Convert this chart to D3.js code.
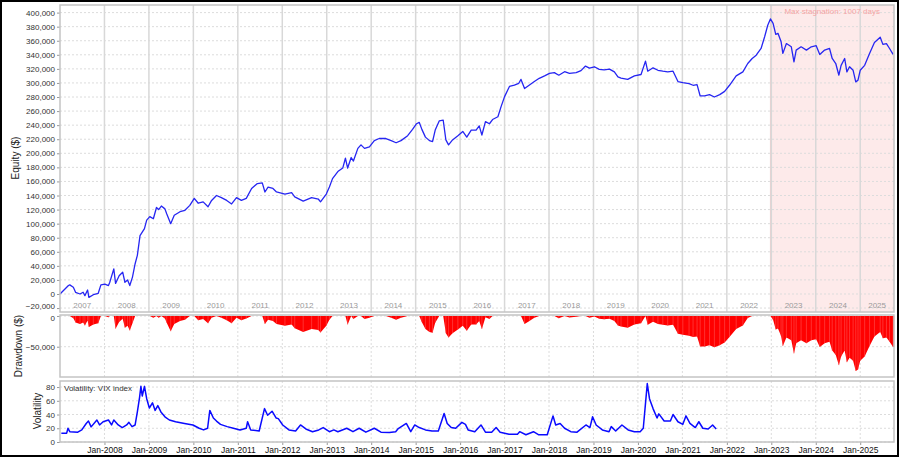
<!DOCTYPE html>
<html><head><meta charset="utf-8">
<script src="https://cdn.jsdelivr.net/npm/d3@7"></script>
<style>
body{margin:0;background:#fff;}
svg{display:block;font-family:"Liberation Sans",Arial,sans-serif;}
</style>
</head><body>
<svg id="c" width="900" height="458"></svg>
<script>
// ---- Data ----
const equityDates = [2007.00,2007.19,2007.22,2007.30,2007.35,2007.45,2007.52,2007.56,2007.62,2007.65,2007.75,2007.86,2007.92,
2008.01,2008.09,2008.12,2008.21,2008.25,2008.33,2008.41,2008.46,2008.52,2008.57,2008.63,2008.69,2008.74,2008.80,2008.85,2008.90,2008.95,
2009.02,2009.10,2009.17,2009.22,2009.28,2009.36,2009.40,2009.49,2009.57,2009.70,2009.81,2009.92,
2010.02,2010.11,2010.22,2010.33,2010.41,2010.52,2010.63,2010.75,2010.86,2010.97,
2011.08,2011.19,2011.31,2011.44,2011.55,2011.61,2011.68,2011.79,2011.87,
2012.06,2012.21,2012.28,2012.47,2012.66,2012.81,2012.86,2012.99,
2013.06,2013.13,2013.25,2013.36,2013.42,2013.47,2013.55,2013.60,2013.70,2013.77,2013.85,2013.96,
2014.07,2014.18,2014.33,2014.45,2014.56,2014.67,2014.82,2014.93,
2015.02,2015.08,2015.14,2015.22,2015.31,2015.38,2015.44,2015.53,2015.62,2015.68,2015.74,2015.83,2015.95,
2016.06,2016.15,2016.25,2016.36,2016.43,2016.49,2016.57,2016.66,2016.73,2016.85,2016.92,
2017.00,2017.11,2017.22,2017.32,2017.37,2017.45,2017.56,2017.67,2017.78,2017.90,
2018.01,2018.12,2018.22,2018.35,2018.46,2018.61,2018.72,2018.82,2018.91,
2019.02,2019.13,2019.24,2019.36,2019.47,2019.55,2019.62,2019.77,2019.92,
2020.07,2020.17,2020.22,2020.34,2020.45,2020.56,2020.67,2020.79,2020.90,
2021.01,2021.15,2021.24,2021.33,2021.40,2021.50,2021.61,2021.72,2021.84,2021.95,
2022.06,2022.21,2022.36,2022.47,2022.57,2022.66,2022.77,2022.85,2022.92,2022.98,
2023.04,2023.10,2023.15,2023.22,2023.26,2023.34,2023.45,2023.51,2023.56,2023.67,2023.79,2023.90,
2024.01,2024.09,2024.20,2024.31,2024.37,2024.45,2024.52,2024.57,2024.65,2024.70,2024.76,2024.84,2024.90,2024.95,
2025.00,2025.10,2025.21,2025.32,2025.45,2025.51,2025.59,2025.66,2025.74];
const equityValues = [0,12000,13000,9500,2400,0,2400,-2400,5700,-4800,-1000,1000,13000,
14000,12000,16700,35700,15000,26000,31000,16700,20000,12000,24000,43000,55000,83000,88000,93000,105000,
110000,107000,123000,120000,125000,121000,114000,100000,112000,117000,119000,126000,
136000,129000,131000,124000,133000,140000,137000,133000,128000,137000,
133000,136000,150000,157000,158000,145000,152000,150000,145000,
142000,144000,138000,132000,137000,135000,131000,142000,
152000,164000,174000,179000,193000,179000,194000,189000,207000,212000,207000,209000,
218000,221000,221000,218000,215000,218000,225000,234000,
242000,244000,234000,223000,218000,216600,233000,246000,247000,219000,212000,219000,225000,
231000,223000,233000,233000,239000,226000,245000,242000,248000,252000,266000,
280600,295000,297000,299500,305000,292000,297000,302000,306600,310000,
313700,314700,311000,316000,313700,314700,317500,324000,321000,
323000,319400,318500,319600,315700,308600,307000,305000,310000,
312000,331000,316700,321500,318000,316700,315700,316700,302000,
300500,299000,296700,297700,281500,281500,283400,280000,283400,288000,
296700,310000,315700,327600,334800,339500,349000,365700,382000,391000,
384800,369000,370500,358600,342000,356000,351400,330000,346700,351400,346700,351400,
353000,340500,346700,349000,334800,327600,311000,325000,334800,315700,323000,318000,301500,304000,
318000,325000,342000,357600,365000,354800,356000,349000,340500];

const vixDates = [2007.03,2007.15,2007.18,2007.22,2007.40,2007.49,2007.59,2007.64,2007.70,2007.83,2007.89,2007.97,
2008.09,2008.16,2008.21,2008.31,2008.40,2008.50,2008.55,2008.62,2008.69,2008.74,2008.79,2008.82,2008.85,2008.90,2008.95,
2009.01,2009.08,2009.14,2009.20,2009.27,2009.36,2009.46,2009.60,2009.80,2009.99,
2010.13,2010.23,2010.32,2010.37,2010.45,2010.52,2010.61,2010.76,2010.90,
2011.05,2011.19,2011.22,2011.29,2011.48,2011.60,2011.67,2011.77,2011.86,2011.91,
2012.01,2012.15,2012.30,2012.41,2012.53,2012.68,2012.82,2012.92,
2013.06,2013.16,2013.25,2013.45,2013.59,2013.73,2013.88,
2014.07,2014.22,2014.41,2014.55,2014.60,2014.79,2014.89,2014.98,
2015.08,2015.22,2015.37,2015.51,2015.64,2015.71,2015.80,2015.90,
2016.04,2016.12,2016.18,2016.33,2016.47,2016.57,2016.71,2016.81,2016.90,
2017.10,2017.29,2017.34,2017.48,2017.65,2017.77,2017.96,
2018.09,2018.15,2018.25,2018.35,2018.49,2018.63,2018.83,2018.92,2018.98,
2019.06,2019.20,2019.35,2019.40,2019.50,2019.64,2019.78,2019.92,
2020.05,2020.12,2020.21,2020.26,2020.34,2020.43,2020.47,2020.59,2020.73,2020.79,2020.90,
2021.01,2021.08,2021.17,2021.29,2021.37,2021.46,2021.58,2021.68,2021.76];
const vixValues = [12.9,12.9,20,15,14.3,17.6,27,30.5,22,32,24.8,29.5,
32,24.8,32,24.8,21,24.8,28.6,22.4,24.8,43.8,65,81,67,81,63,
49.5,57,46,53,43.8,36.7,32,29.5,27,24.8,
20,17.6,20,46,35,30.5,25.7,22.4,20,
17.6,20,29.5,17.6,16,48.6,39,44.8,35,34,
24.8,17.6,16,24.8,19,15,17.6,21,
15,17.6,15,20,15,20,14.3,
20,14.3,13.8,15,19,27,15,24.8,
21,17.6,16,16,41.4,27,21,20,
28.6,25.7,17.6,15,24.8,14.3,14.3,21,14.3,
11.4,11.4,15,10.5,15,10.5,10.5,
38,24.8,27,20,15,14.3,24.8,21,36.7,
24.8,17.6,15,22.4,16,24.8,17.6,15,
15,20,85,63,48.6,35,41,30.5,30.5,40,29.5,
25.7,38,27,21,29.5,20,19,24.8,19];

const equityTicks = d3.range(-20000, 400001, 20000);
const drawdownTicks = [0, -50000];
const vixTicks = [0, 20, 40, 60, 80];
const yearList = d3.range(2007, 2026);
const bottomYears = d3.range(2008, 2026);
const stagnationStart = 2022.98;
const stagnationText = "Max stagnation: 1007 days";

// ---- Layout ----
const svg = d3.select('#c');
const L = 60, R = 894;
const x = d3.scaleLinear().domain([2007.0, 2025.76]).range([L, R]);
const P1 = {top:5, bottom:312}, P2 = {top:315, bottom:377}, P3 = {top:381, bottom:442};
const yE = d3.scaleLinear().domain([-25600, 410800]).range([P1.bottom, P1.top]);
const yD = d3.scaleLinear().domain([-99300, 1600]).range([P2.bottom, P2.top]);
const yV = d3.scaleLinear().domain([0, 88.8]).range([P3.bottom, P3.top]);
const gridCol = "#dcdcdc", frameCol = "#c4c4c4", txt = "#333";
const blue = "#2626f2";

svg.append("rect").attr("width",900).attr("height",458).attr("fill","#fff");

// ---- Panel 1: equity ----
const g1 = svg.append("g");
g1.append("rect").attr("x", x(stagnationStart)).attr("y", P1.top)
  .attr("width", R - x(stagnationStart)).attr("height", P1.bottom - P1.top)
  .attr("fill", "#fdeaea");
g1.append("line").attr("x1", x(stagnationStart)).attr("x2", x(stagnationStart))
  .attr("y1", P1.top).attr("y2", P1.bottom).attr("stroke", "#efcdcd").attr("stroke-width", 1);
g1.selectAll(".hg").data(equityTicks).enter().append("line")
  .attr("x1", L).attr("x2", R).attr("y1", d => yE(d)).attr("y2", d => yE(d))
  .attr("stroke", gridCol).attr("stroke-width", 1).attr("stroke-dasharray", "2,2");
g1.selectAll(".vg").data(bottomYears).enter().append("line")
  .attr("x1", d => x(d)).attr("x2", d => x(d)).attr("y1", P1.top).attr("y2", P1.bottom)
  .attr("stroke", "#d8d8d8").attr("stroke-width", 1.5);
g1.selectAll(".yl").data(yearList).enter().append("text")
  .attr("x", d => (x(d) + Math.min(x(d + 1), R)) / 2).attr("y", 307.5)
  .attr("text-anchor", "middle").attr("font-size", "8px").attr("fill", "#9a9a9a")
  .text(d => d);
g1.append("text").attr("x", (x(stagnationStart) + R) / 2).attr("y", 13.5)
  .attr("text-anchor", "middle").attr("font-size", "8px").attr("fill", "#f4a4a4")
  .text(stagnationText);
const eqData = equityDates.map((d, i) => [d, equityValues[i]]);
g1.append("path").datum(eqData)
  .attr("d", d3.line().x(d => x(d[0])).y(d => yE(d[1])))
  .attr("fill", "none").attr("stroke", blue).attr("stroke-width", 1.3).attr("stroke-linejoin", "round");
g1.append("g").attr("class", "ax1").attr("transform", `translate(${L},0)`)
  .call(d3.axisLeft(yE).tickValues(equityTicks).tickFormat(d3.format(",")).tickSize(3).tickPadding(2));

// ---- Panel 2: drawdown ----
const g2 = svg.append("g");
g2.selectAll(".hg").data(drawdownTicks).enter().append("line")
  .attr("x1", L).attr("x2", R).attr("y1", d => yD(d)).attr("y2", d => yD(d))
  .attr("stroke", gridCol).attr("stroke-dasharray", "2,2");
g2.selectAll(".vg").data(bottomYears).enter().append("line")
  .attr("x1", d => x(d)).attr("x2", d => x(d)).attr("y1", P2.top).attr("y2", P2.bottom)
  .attr("stroke", gridCol).attr("stroke-dasharray", "2,2");
let peak = -Infinity;
const ddData = eqData.map(d => {
  peak = Math.max(peak, d[1]);
  return [d[0], d[1] - peak];
});
ddData.push([x.domain()[1], ddData[ddData.length - 1][1]]);
g2.append("path").datum(ddData)
  .attr("d", d3.area().x(d => x(d[0])).y0(yD(0)).y1(d => yD(d[1])))
  .attr("fill", "#ff0000");
g2.selectAll(".bar").data(ddData.filter(d => d[1] < 0)).enter().append("line")
  .attr("x1", d => x(d[0])).attr("x2", d => x(d[0]))
  .attr("y1", yD(0)).attr("y2", d => yD(d[1]))
  .attr("stroke", "#ff5050").attr("stroke-width", 0.6);
g2.append("g").attr("class", "ax2").attr("transform", `translate(${L},0)`)
  .call(d3.axisLeft(yD).tickValues(drawdownTicks).tickFormat(d3.format(",")).tickSize(3).tickPadding(2));

// ---- Panel 3: volatility ----
const g3 = svg.append("g");
g3.selectAll(".hg").data(vixTicks).enter().append("line")
  .attr("x1", L).attr("x2", R).attr("y1", d => yV(d)).attr("y2", d => yV(d))
  .attr("stroke", gridCol).attr("stroke-dasharray", "2,2");
g3.selectAll(".vg").data(bottomYears).enter().append("line")
  .attr("x1", d => x(d)).attr("x2", d => x(d)).attr("y1", P3.top).attr("y2", P3.bottom)
  .attr("stroke", gridCol).attr("stroke-dasharray", "2,2");
const vixData = vixDates.map((d, i) => [d, vixValues[i]]);
g3.append("path").datum(vixData)
  .attr("d", d3.line().x(d => x(d[0])).y(d => yV(d[1])))
  .attr("fill", "none").attr("stroke", "#0a0aff").attr("stroke-width", 1.5).attr("stroke-linejoin", "round");
g3.append("text").attr("x", 64).attr("y", 390.5).attr("font-size", "8px").attr("fill", txt)
  .text("Volatility: VIX index");
g3.append("g").attr("transform", `translate(${L},0)`)
  .call(d3.axisLeft(yV).tickValues(vixTicks).tickSize(3).tickPadding(2));
g3.append("g").attr("class", "axb").attr("transform", `translate(0,${P3.bottom})`)
  .call(d3.axisBottom(x).tickValues(bottomYears).tickFormat(d => "Jan-" + d).tickSize(3).tickPadding(2));

// axis styling
svg.selectAll(".domain").remove();
svg.selectAll(".tick line").attr("stroke", "#999");
svg.selectAll(".tick text").attr("font-size", "8px").attr("fill", txt)
  .attr("font-family", '"Liberation Sans",Arial,sans-serif');
svg.selectAll(".axb .tick text").attr("fill", "#111").attr("font-size", "8.5px");
svg.selectAll(".ax1 .tick text").filter(d => d === -20000).attr("dy", "0.1em");
svg.selectAll(".ax2 .tick text").filter(d => d === 0).attr("dy", "0.6em");

// panel frames
[P1, P2, P3].forEach(p => {
  svg.append("rect").attr("x", L).attr("y", p.top).attr("width", R - L).attr("height", p.bottom - p.top)
    .attr("fill", "none").attr("stroke", frameCol).attr("stroke-width", 1.5);
});

function vtitle(t, cx, cy) {
  svg.append("text").attr("transform", `translate(${cx},${cy}) rotate(-90)`)
    .attr("text-anchor", "middle").attr("dominant-baseline", "central")
    .attr("font-size", "10px").attr("fill", "#222").text(t);
}
vtitle("Equity ($)", 15, 158);
vtitle("Drawdown ($)", 18, 346);
vtitle("Volatility", 37, 411);

svg.append("rect").attr("x", 1).attr("y", 1).attr("width", 897).attr("height", 455)
  .attr("fill", "none").attr("stroke", "#000").attr("stroke-width", 2);
</script>
</body></html>
